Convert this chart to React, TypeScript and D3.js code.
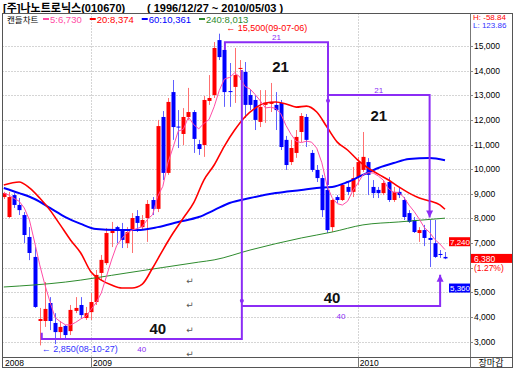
import React from 'react';
import * as d3 from 'd3';

// weekly candles, 2008-09 ~ 2010-05-03
const opens = [8870, 8060, 8950, 8550, 8140, 7250, 6440, 3840, 3840, 4570, 3760, 3390, 3640, 3430, 4250, 4490, 3960, 4200, 4610, 5790,
  6190, 7410, 7650, 7570, 7000, 7530, 8100, 7650, 8020, 8750, 8390, 12120, 9850, 13130, 11730, 11430, 12120, 12320, 11020, 10980,
  12770, 13010, 15240, 14840, 13170, 13340, 14070, 13950, 13010, 12810, 11920, 12610, 12650, 12610, 12690, 11190, 10290, 10660, 11510, 12120,
  10660, 9970, 9640, 9160, 7650, 8870, 8750, 9280, 9080, 9680, 9970, 10290, 9280, 9160, 9030, 9480, 8750, 9080, 8750, 8220,
  7940, 7410, 7530, 7210, 7000, 6560, 6440];
const highs = [9080, 9080, 9030, 8830, 8260, 7650, 6840, 4370, 5420, 4810, 4160, 3840, 3680, 4490, 4810, 4810, 4410, 4980, 5910, 6520,
  7610, 7860, 7700, 7820, 7650, 8220, 8340, 8140, 8750, 8870, 12000, 12360, 12890, 13620, 12400, 12480, 13300, 12400, 11190, 12970,
  13820, 15160, 15500, 15040, 14310, 14920, 14430, 14350, 13210, 13010, 13210, 13210, 13500, 13130, 12810, 11350, 11190, 11590, 12280, 12240,
  10780, 10170, 9770, 9360, 8790, 8950, 9440, 9480, 10090, 10500, 11510, 10450, 9560, 9280, 9560, 9680, 9280, 9240, 8870, 8340,
  8060, 7650, 7740, 7940, 7940, 6720, 6640];
const lows = [8790, 8020, 8430, 8140, 7000, 6310, 4370, 2850, 3600, 3470, 2900, 3070, 3070, 3270, 4160, 3960, 3880, 3880, 4490, 5500,
  6110, 6840, 7000, 6800, 6800, 6600, 7450, 7530, 7050, 8140, 8260, 9560, 9770, 11190, 10860, 10980, 12000, 10660, 10580, 10500,
  12610, 12890, 14430, 12530, 12530, 12690, 13620, 12080, 12400, 11590, 11710, 11880, 12320, 11590, 10780, 9970, 10170, 10460, 11100, 10900,
  9890, 9480, 8060, 7410, 7450, 8630, 8710, 8950, 8870, 9360, 9890, 8950, 8830, 8830, 8950, 8670, 8670, 8830, 7940, 7820,
  7410, 7050, 6880, 6030, 6400, 6400, 6350];
const closes = [9030, 8870, 8550, 8340, 7330, 6600, 4410, 3920, 4330, 3840, 3390, 3600, 3270, 4290, 4370, 4080, 4160, 4610, 5710, 6320,
  7410, 7530, 7530, 7130, 7450, 8020, 7820, 7940, 8590, 8390, 11750, 9850, 12730, 11710, 11690, 12120, 12320, 11230, 10820, 12810,
  12890, 14920, 14550, 13130, 13130, 13820, 14110, 12610, 12610, 12000, 12530, 12690, 12730, 12400, 10900, 10170, 10860, 11310, 12160, 11190,
  9970, 9640, 8340, 7530, 8750, 8750, 9360, 9080, 9640, 10290, 10500, 9770, 9030, 9030, 9440, 8750, 9080, 8950, 8060, 7860,
  7450, 7530, 7210, 7130, 6440, 6520, 6380];

// moving averages: [week index, price]
const ma20Pts = [[0, 9360], [3, 9480], [5, 9240], [7, 8830], [9, 8340], [11, 7740], [13, 7130], [15, 6600], [17, 5830], [19, 5500],
  [21, 5300], [23, 5180], [25, 5180], [27, 5340], [29, 5990], [31, 6720], [33, 7410], [35, 8020], [37, 8630], [39, 9560],
  [41, 10170], [43, 10940], [45, 11590], [47, 12120], [49, 12480], [51, 12690], [53, 12730], [55, 12650], [57, 12520], [59, 12560],
  [61, 12320], [63, 11710], [65, 11100], [67, 10780], [69, 10370], [71, 10050], [73, 9800], [75, 9560], [77, 9280], [79, 9030],
  [81, 8830], [83, 8710], [85, 8550], [86, 8374]];
const ma60Pts = [[0, 9240], [3, 9030], [6, 8790], [9, 8430], [12, 8060], [15, 7780], [18, 7570], [22, 7530], [26, 7530], [30, 7650],
  [34, 7860], [38, 8060], [41, 8340], [44, 8630], [48, 8830], [53, 9030], [58, 9160], [61, 9240], [64, 9280], [67, 9480],
  [70, 9770], [73, 10050], [76, 10250], [79, 10410], [83, 10450], [86, 10361]];
const ma240Pts = [[0, 5220], [12, 5420], [24, 5790], [38, 6230], [41, 6320], [48, 6720], [58, 7210], [64, 7450], [70, 7740], [77, 7860], [86, 8013]];

const priceTicks = d3.range(3000, 15001, 1000);
const yearStarts = [{ label: '2009', idx: 17 }, { label: '2010', idx: 69 }];
const legendItems = [
  { label: '5:6,730', color: '#ff4da6' },
  { label: '20:8,374', color: '#ff0000' },
  { label: '60:10,361', color: '#0000ff' },
  { label: '240:8,013', color: '#2e8b2e' },
];
const lastPrice = 6380;

// cycle brackets: [week index, price]
const cycleLines = [
  [[7.4, 3360], [7.4, 3110], [46.4, 3110], [46.4, 14030]],
  [[46.4, 4450], [85.05, 4450], [85.05, 5720]],
  [[43.1, 14840], [43.1, 15150], [63.2, 15150], [63.2, 9360]],
  [[63.2, 13010], [83.0, 13010], [83.0, 8040]],
];
const cycleArrows = [1, 3];
const cycleDots = [[46.4, 4660], [63.2, 12780]];
const cycleLabels = [
  { text: '40', from: 7.4, to: 46.4, price: 3110, big: -5, small: 13, dx: 16 },
  { text: '40', from: 46.4, to: 85.05, price: 4450, big: -3, small: 13, dx: -9 },
  { text: '21', from: 43.1, to: 63.2, price: 15150, big: 30, small: -2, dx: 4 },
  { text: '21', from: 63.2, to: 83.0, price: 13010, big: 26, small: -2.5, dx: 0 },
];
const returnMarks = [5500, 4500, 3480, 2520];

const PL = 2.5, PR = 470.5, PT = 13.5, PB = 357.5, RR = 512.5, DB = 367.5;
const NUM = "'Liberation Sans', 'DejaVu Sans', 'Noto Sans CJK KR', sans-serif";
const KR = "'Noto Sans CJK KR', sans-serif";
const PURPLE = '#8b2cf5';

export default function App() {
  const x = d3.scaleLinear().domain([0, 86]).range([3.8, 445]);
  const y = d3.scaleLinear().domain([3000, 15000]).range([341.7, 46]);
  const ma5 = closes.map((_, i) => d3.mean(closes.slice(Math.max(0, i - 4), i + 1)) as number);
  const straight = d3.line<number[]>().x(d => x(d[0])).y(d => y(d[1]));
  const smooth = d3.line<number[]>().x(d => x(d[0])).y(d => y(d[1])).curve(d3.curveMonotoneX);
  const ma5Path = d3.line<number>().x((_, i) => x(i)).y(d => y(d))(ma5) || '';
  const fmt = d3.format(',');

  let lx = 43;
  const legendPos = legendItems.map(it => {
    const p = lx;
    lx += 8 + it.label.length * 5.25 + 2;
    return p;
  });

  return (
    <svg width={516} height={371} style={{ position: 'absolute', left: 0, top: 0, background: '#fff' }}>
      <defs>
        <clipPath id="plot"><rect x={PL} y={PT} width={PR - PL} height={PB - PT} /></clipPath>
      </defs>
      <rect width={516} height={371} fill="#fff" />
      {/* title */}
      <text x={3} y={11.5} fontFamily={NUM} fontSize={11} fontWeight="bold" fill="#000">[주]나노트로닉스(010670)</text>
      <text x={147} y={11.5} fontFamily={NUM} fontSize={11} fontWeight="bold" fill="#000">( 1996/12/27 ~ 2010/05/03 )</text>

      {/* grid */}
      {priceTicks.map(t => (
        <line key={t} x1={PL} x2={PR} y1={Math.round(y(t)) + 0.5} y2={Math.round(y(t)) + 0.5} stroke="#aaa" strokeDasharray="1,2" />
      ))}
      {yearStarts.map(ys => (
        <line key={ys.label} x1={Math.round(x(ys.idx)) + 0.5} x2={Math.round(x(ys.idx)) + 0.5} y1={PT} y2={PB} stroke="#aaa" strokeDasharray="1,2" />
      ))}

      <g clipPath="url(#plot)">
        {/* candles */}
        {closes.map((c, i) => {
          const o = opens[i];
          const up = c >= o;
          const cx = Math.round(x(i)) + 0.5;
          const top = y(Math.max(o, c));
          const h = Math.max(1, Math.abs(y(o) - y(c)));
          return (
            <g key={i}>
              <line x1={cx} x2={cx} y1={y(highs[i])} y2={y(lows[i])} stroke={up ? '#ff7070' : '#6060ff'} />
              <rect x={cx - 2} y={top} width={4} height={h} fill={up ? '#ff0000' : '#0000ff'} />
            </g>
          );
        })}
        {/* moving averages */}
        <path d={smooth(ma240Pts) || ''} fill="none" stroke="#2e8b2e" strokeWidth={1} />
        <path d={smooth(ma60Pts) || ''} fill="none" stroke="#0000ff" strokeWidth={2} />
        <path d={smooth(ma20Pts) || ''} fill="none" stroke="#ff0000" strokeWidth={1.6} />
        <path d={ma5Path} fill="none" stroke="#ff4da6" strokeWidth={1} />

        {/* cycle brackets */}
        {cycleLines.map((pts, i) => (
          <path key={i} d={straight(pts) || ''} fill="none" stroke={PURPLE} strokeWidth={2} />
        ))}
        {cycleArrows.map(k => {
          const pts = cycleLines[k];
          const tip = pts[pts.length - 1];
          const prev = pts[pts.length - 2];
          const tx = x(tip[0]), ty = y(tip[1]);
          const dir = y(prev[1]) > ty ? 1 : -1;
          return <polygon key={k} points={`${tx - 3.5},${ty + dir * 7} ${tx + 3.5},${ty + dir * 7} ${tx},${ty}`} fill={PURPLE} />;
        })}
        {cycleDots.map((d, i) => <circle key={i} cx={x(d[0])} cy={y(d[1])} r={2} fill={PURPLE} />)}
        {cycleLabels.map((l, i) => {
          const mx = (x(l.from) + x(l.to)) / 2;
          const ly = y(l.price);
          return (
            <g key={i}>
              <text x={mx} y={ly + l.small} textAnchor="middle" fontFamily={NUM} fontSize={8} fill={PURPLE}>{l.text}</text>
              <text x={mx + l.dx} y={ly + l.big} textAnchor="middle" fontFamily={NUM} fontSize={15} fontWeight="bold" fill="#111">{l.text}</text>
            </g>
          );
        })}
        {returnMarks.map(p => (
          <text key={p} x={x(36.3)} y={y(p) + 3.5} textAnchor="middle" fontFamily="'DejaVu Sans'" fontSize={9} fill="#555">↵</text>
        ))}

        {/* high / low marks */}
        <text x={x(42) + 7} y={y(15500) - 2.5} fontFamily={NUM} fontSize={9} fill="#ff0000">← 15,500(09-07-06)</text>
        <text x={x(7) + 2} y={y(2850) + 7} fontFamily={NUM} fontSize={9} fill="#3333ff">← 2,850(08-10-27)</text>
      </g>

      {/* legend */}
      <text x={7} y={22.5} fontFamily={NUM} fontSize={8.5} fill="#000">캔들차트</text>
      {legendItems.map((it, i) => (
        <g key={it.label}>
          <line x1={legendPos[i]} x2={legendPos[i] + 6} y1={19} y2={19} stroke={it.color} strokeWidth={2} />
          <text x={legendPos[i] + 7} y={22.5} fontFamily={NUM} fontSize={9.5} fill={it.color}>{it.label}</text>
        </g>
      ))}

      {/* frames */}
      <rect x={PL} y={PT} width={RR - PL} height={DB - PT} fill="none" stroke="#555" />
      <line x1={PR} x2={PR} y1={PT} y2={DB} stroke="#777" />
      <line x1={PL} x2={RR} y1={PB} y2={PB} stroke="#555" />
      {yearStarts.map(ys => (
        <line key={ys.label} x1={Math.round(x(ys.idx)) + 0.5} x2={Math.round(x(ys.idx)) + 0.5} y1={PB} y2={DB} stroke="#777" />
      ))}

      {/* right axis */}
      <text x={473} y={20} fontFamily={NUM} fontSize={8} fill="#ff0000">H: -58.84</text>
      <text x={473} y={28} fontFamily={NUM} fontSize={8} fill="#3333ff">L: 123.86</text>
      {priceTicks.map(t => (
        <g key={t}>
          <line x1={PR} x2={PR + 2.5} y1={Math.round(y(t)) + 0.5} y2={Math.round(y(t)) + 0.5} stroke="#888" />
          {Math.abs(y(t) - y(lastPrice)) > 14 && (
            <text x={474} y={y(t) + 3} fontFamily={NUM} fontSize={8.5} fill="#000">{fmt(t)}</text>
          )}
        </g>
      ))}
      <rect x={449} y={y(7240)} width={21} height={9} fill="#ff0000" />
      <text x={450} y={y(7240) + 7.5} fontFamily={NUM} fontSize={8} fill="#fff">7,240</text>
      <rect x={471} y={y(lastPrice) - 4.5} width={41} height={9} fill="#ff0000" />
      <text x={474} y={y(lastPrice) + 3.5} fontFamily={NUM} fontSize={8.5} fill="#fff">{fmt(lastPrice)}</text>
      <text x={474} y={y(lastPrice) + 13} fontFamily={NUM} fontSize={8.5} fill="#ff0000">(1.27%)</text>
      <rect x={449} y={y(5360)} width={21} height={9} fill="#0000ff" />
      <text x={450} y={y(5360) + 7.5} fontFamily={NUM} fontSize={8} fill="#fff">5,360</text>

      {/* dates */}
      <text x={5} y={366} fontFamily={NUM} fontSize={8.5} fill="#000">2008</text>
      {yearStarts.map(ys => (
        <text key={ys.label} x={x(ys.idx) + 2} y={366} fontFamily={NUM} fontSize={8.5} fill="#000">{ys.label}</text>
      ))}
      <text x={491} y={366} textAnchor="middle" fontFamily={NUM} fontSize={9} fill="#000">장마감</text>
    </svg>
  );
}
